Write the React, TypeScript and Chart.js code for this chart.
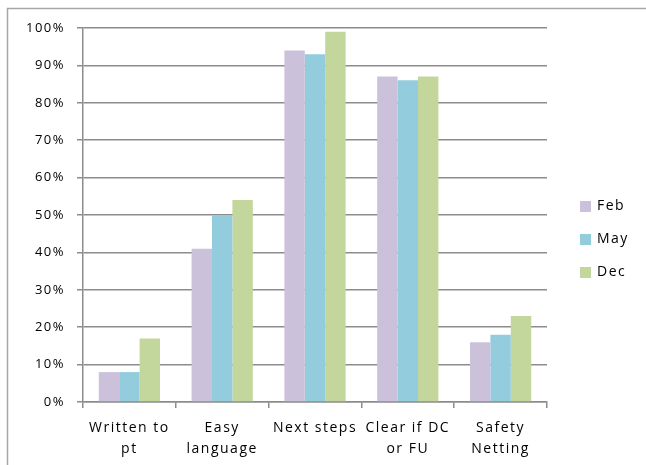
import { useEffect, useRef } from "react";
import { Chart, registerables } from "chart.js";

Chart.register(...registerables);

// Categories (multi-line labels) and series values, in percent
const categories: (string | string[])[] = [
  ["Written to", "pt"],
  ["Easy", "language"],
  "Next steps",
  ["Clear if DC", "or FU"],
  ["Safety", "Netting"],
];
const seriesNames = ["Feb", "May", "Dec"];
const febValues = [8, 41, 94, 87, 16];
const mayValues = [8, 50, 93, 86, 18];
const decValues = [17, 54, 99, 87, 23];
const seriesColors = ["#CCC1DA", "#93CDDD", "#C3D69B"];
const yMax = 100;
const yStep = 10;

const FONT_FAMILY = "'Open Sans', 'Noto Sans', sans-serif";
const LETTER_SPACING = "1.5px";
const AXIS_GRAY = "#8c8c8c";

// Keeps the wide-set text look by applying letter spacing to the context
const spacingPlugin = {
  id: "spacing",
  beforeUpdate(chart: any) {
    chart.ctx.letterSpacing = LETTER_SPACING;
  },
  beforeLayout(chart: any) {
    chart.ctx.letterSpacing = LETTER_SPACING;
  },
  beforeDraw(chart: any) {
    chart.ctx.letterSpacing = LETTER_SPACING;
  },
};

// Outer frame (left and top edges) and the legend on the right side
const framePlugin = {
  id: "frameLegend",
  beforeDraw(chart: any) {
    const ctx = chart.ctx;
    ctx.save();
    ctx.fillStyle = "#ffffff";
    ctx.fillRect(0, 0, chart.width, chart.height);
    ctx.strokeStyle = "#a6a6a6";
    ctx.lineWidth = 1.5;
    ctx.beginPath();
    ctx.moveTo(7.5, chart.height);
    ctx.lineTo(7.5, 8.5);
    ctx.lineTo(chart.width, 8.5);
    ctx.stroke();
    ctx.restore();
  },
  afterDraw(chart: any) {
    const ctx = chart.ctx;
    ctx.save();
    ctx.letterSpacing = LETTER_SPACING;
    ctx.font = `14px ${FONT_FAMILY}`;
    ctx.textBaseline = "middle";
    ctx.textAlign = "left";
    const x0 = 580;
    const y0 = 206;
    const gap = 33;
    chart.data.datasets.forEach((ds: any, i: number) => {
      const cy = y0 + i * gap;
      ctx.fillStyle = ds.backgroundColor;
      ctx.fillRect(x0, cy - 5, 11, 11);
      ctx.fillStyle = "#000000";
      ctx.fillText(ds.label, x0 + 17, cy);
    });
    ctx.restore();
  },
};

export default function App() {
  const canvasRef = useRef<HTMLCanvasElement | null>(null);

  useEffect(() => {
    const canvas = canvasRef.current;
    if (!canvas) return;
    const values = [febValues, mayValues, decValues];
    const chart = new Chart(canvas, {
      type: "bar",
      data: {
        labels: categories,
        datasets: seriesNames.map((name, i) => ({
          label: name,
          data: values[i],
          backgroundColor: seriesColors[i],
          borderWidth: 0,
          barPercentage: 1,
          categoryPercentage: 0.66,
        })),
      },
      options: {
        responsive: false,
        animation: false,
        devicePixelRatio: 1,
        layout: { padding: { left: 0, top: 28, right: 99, bottom: 0 } },
        plugins: {
          legend: { display: false },
          tooltip: { enabled: false },
        },
        scales: {
          x: {
            offset: true,
            grid: {
              display: true,
              offset: true,
              drawOnChartArea: false,
              drawTicks: true,
              tickLength: 6,
              color: AXIS_GRAY,
              lineWidth: 1.5,
            },
            border: { color: AXIS_GRAY, width: 1.5 },
            ticks: {
              color: "#000000",
              autoSkip: false,
              maxRotation: 0,
              padding: 10,
              font: { family: FONT_FAMILY, size: 14, lineHeight: 1.5 },
            },
            afterFit(scale: any) {
              scale.height = 63;
            },
          },
          y: {
            min: 0,
            max: yMax,
            grid: {
              color: AXIS_GRAY,
              lineWidth: 1.5,
              tickLength: 6,
              drawTicks: true,
            },
            border: { color: AXIS_GRAY, width: 1.5 },
            ticks: {
              stepSize: yStep,
              color: "#000000",
              padding: 12,
              font: { family: FONT_FAMILY, size: 13 },
              callback: (v: any) => `${v}%`,
            },
            afterFit(scale: any) {
              scale.width = 83;
            },
          },
        },
      },
      plugins: [spacingPlugin, framePlugin],
    });
    return () => chart.destroy();
  }, []);

  return (
    <canvas
      ref={canvasRef}
      width={646}
      height={465}
      style={{ position: "fixed", left: 0, top: 0, width: 646, height: 465 }}
    />
  );
}
